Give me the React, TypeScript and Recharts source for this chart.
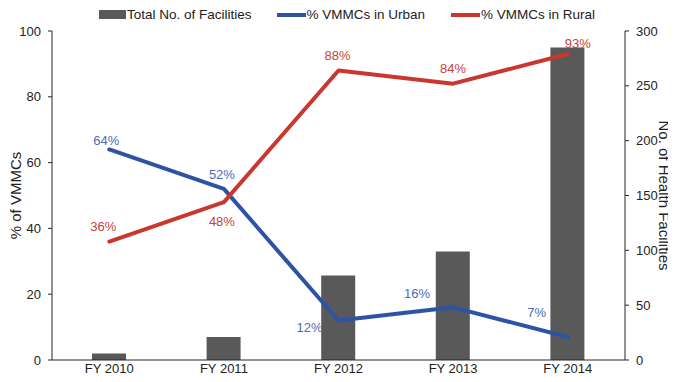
import React from 'react';
import {
  Bar,
  ComposedChart,
  LabelList,
  Legend,
  Line,
  XAxis,
  YAxis,
} from 'recharts';

// Chart values
const years = ['FY 2010', 'FY 2011', 'FY 2012', 'FY 2013', 'FY 2014'];
const facilities = [6, 21, 77, 99, 285];
const urbanPct = [64, 52, 12, 16, 7];
const ruralPct = [36, 48, 88, 84, 93];
const leftTicks = [0, 20, 40, 60, 80, 100];
const rightTicks = [0, 50, 100, 150, 200, 250, 300];

// Label nudges (dx, dy) from each point, per category
const urbanLabelOffsets = [[-3, -9], [-2, -14], [-29, 7], [-36, -14], [-31, -24]];
const ruralLabelOffsets = [[-6, -15], [-2, 19], [-1, -15], [0, -15], [10, -11]];

const FONT = '"Liberation Sans", Arial, sans-serif';
const URBAN = '#2e52a4';
const RURAL = '#c9372d';
const URBAN_TEXT = '#4a6cb3';
const RURAL_TEXT = '#c8413a';
const BAR = '#595959';
const AXIS = '#262626';

const data = years.map((year, i) => ({
  year,
  facilities: facilities[i],
  urban: urbanPct[i],
  rural: ruralPct[i],
}));

const makeLabel = (offsets: number[][], color: string) => (props: any) => {
  const { x, y, value, index } = props;
  const [dx, dy] = offsets[index] ?? [0, -12];
  return (
    <text
      x={x + dx}
      y={y + dy}
      fill={color}
      fontSize={13}
      fontFamily={FONT}
      textAnchor="middle"
      dominantBaseline="central"
    >
      {`${value}%`}
    </text>
  );
};

const renderLegend = () => (
  <div
    style={{
      display: 'flex',
      alignItems: 'flex-start',
      height: 20,
      paddingLeft: 91,
      fontFamily: FONT,
      fontSize: 13.5,
      lineHeight: '13px',
      color: '#222',
    }}
  >
    <span style={{ display: 'inline-block', width: 27, height: 9, background: BAR, marginTop: 2 }} />
    <span style={{ marginLeft: 1 }}>Total No. of Facilities</span>
    <span style={{ display: 'inline-block', width: 29, height: 4, background: URBAN, marginLeft: 25, marginTop: 5 }} />
    <span style={{ marginLeft: 1 }}>% VMMCs in Urban</span>
    <span style={{ display: 'inline-block', width: 29, height: 4, background: RURAL, marginLeft: 26, marginTop: 5 }} />
    <span style={{ marginLeft: 1 }}>% VMMCs in Rural</span>
  </div>
);

export default function App() {
  const tickStyle = { fill: '#222', fontSize: 13, fontFamily: FONT };
  const titleStyle = { textAnchor: 'middle', fill: '#222', fontSize: 15, fontFamily: FONT };
  return (
    <div style={{ fontFamily: FONT }}>
      <ComposedChart
        width={668}
        height={374}
        data={data}
        margin={{ top: 3, right: 0, bottom: 0, left: 0 }}
      >
        <Legend
          verticalAlign="top"
          content={renderLegend}
          wrapperStyle={{ left: 0, top: 0, width: 668, margin: 0 }}
        />
        <XAxis
          dataKey="year"
          height={22}
          tickLine={false}
          tickSize={0}
          tickMargin={4}
          stroke={AXIS}
          tick={tickStyle}
          interval={0}
        />
        <YAxis
          yAxisId="left"
          width={44}
          domain={[0, 100]}
          ticks={leftTicks}
          tickSize={4}
          tickMargin={7}
          stroke={AXIS}
          tick={tickStyle}
          label={{
            value: '% of VMMCs',
            angle: -90,
            position: 'insideLeft',
            offset: 8,
            style: titleStyle,
          }}
        />
        <YAxis
          yAxisId="right"
          orientation="right"
          width={51}
          domain={[0, 300]}
          ticks={rightTicks}
          tickSize={4}
          tickMargin={7}
          stroke={AXIS}
          tick={tickStyle}
          label={{
            value: 'No. of Health Facilities',
            angle: 90,
            position: 'insideRight',
            offset: 12,
            style: titleStyle,
          }}
        />
        <Bar
          yAxisId="right"
          dataKey="facilities"
          name="Total No. of Facilities"
          fill={BAR}
          barSize={34}
          isAnimationActive={false}
        />
        <Line
          yAxisId="left"
          type="linear"
          dataKey="urban"
          name="% VMMCs in Urban"
          stroke={URBAN}
          strokeWidth={4}
          strokeLinejoin="round"
          strokeLinecap="round"
          dot={false}
          activeDot={false}
          isAnimationActive={false}
        >
          <LabelList dataKey="urban" content={makeLabel(urbanLabelOffsets, URBAN_TEXT)} />
        </Line>
        <Line
          yAxisId="left"
          type="linear"
          dataKey="rural"
          name="% VMMCs in Rural"
          stroke={RURAL}
          strokeWidth={4}
          strokeLinejoin="round"
          strokeLinecap="round"
          dot={false}
          activeDot={false}
          isAnimationActive={false}
        >
          <LabelList dataKey="rural" content={makeLabel(ruralLabelOffsets, RURAL_TEXT)} />
        </Line>
      </ComposedChart>
    </div>
  );
}
